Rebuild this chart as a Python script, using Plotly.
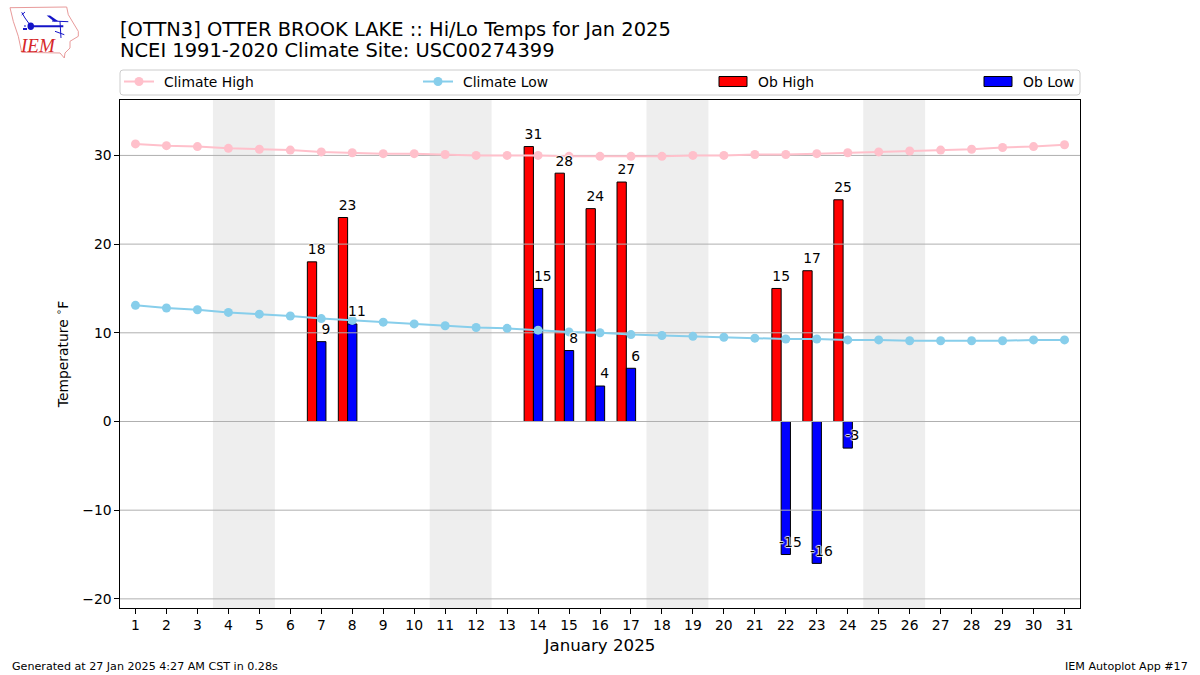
import plotly.graph_objects as go

days = list(range(1, 32))
climate_high = [31.3, 31.1, 31.0, 30.8, 30.7, 30.6, 30.4, 30.3, 30.2, 30.2, 30.1, 30.0, 30.0, 30.0, 29.9, 29.9,
                29.9, 29.9, 30.0, 30.0, 30.1, 30.1, 30.2, 30.3, 30.4, 30.5, 30.6, 30.7, 30.9, 31.0, 31.2]
climate_low = [13.1, 12.8, 12.6, 12.3, 12.1, 11.9, 11.6, 11.4, 11.2, 11.0, 10.8, 10.6, 10.5, 10.3, 10.1, 10.0,
               9.8, 9.7, 9.6, 9.5, 9.4, 9.3, 9.3, 9.2, 9.2, 9.1, 9.1, 9.1, 9.1, 9.2, 9.2]
obs_days = [7, 8, 14, 15, 16, 17, 22, 23, 24]
ob_high = [18, 23, 31, 28, 24, 27, 15, 17, 25]
ob_low = [9, 11, 15, 8, 4, 6, -15, -16, -3]
weekends = [(3.5, 5.5), (10.5, 12.5), (17.5, 19.5), (24.5, 26.5)]
y_ticks = [-20, -10, 0, 10, 20, 30]

FONT = "DejaVu Sans"
SMALL, MID, LARGE, FOOT = 13.89, 16.67, 19.44, 11.11
L, R, T, B = 120, 1080, 100, 608
W, H = 1200, 675
px = lambda x: (x - L) / (R - L)
py = lambda y: (B - y) / (B - T)


def path(points, close=False):
    s = "M" + " L".join(f"{px(x):.5f},{py(y):.5f}" for x, y in points)
    return s + (" Z" if close else "")


BAR_W = 0.3
fig = go.Figure()
fig.add_trace(go.Bar(x=obs_days, y=ob_high, width=BAR_W, offset=-1.5 * BAR_W, name="Ob High", legend="legend3",
                     marker=dict(color="#ff0000", line=dict(color="black", width=1))))
fig.add_trace(go.Bar(x=obs_days, y=ob_low, width=BAR_W, offset=-0.5 * BAR_W, name="Ob Low", legend="legend4",
                     marker=dict(color="#0000ff", line=dict(color="black", width=1))))
for t in y_ticks:
    fig.add_trace(go.Scatter(x=[0.5, 31.5], y=[t, t], mode="lines", line=dict(color="#b0b0b0", width=1),
                             showlegend=False, hoverinfo="skip"))
fig.add_trace(go.Scatter(x=days, y=climate_high, mode="lines+markers", name="Climate High", legend="legend",
                         line=dict(color="#ffc0cb", width=2), marker=dict(color="#ffc0cb", size=9)))
fig.add_trace(go.Scatter(x=days, y=climate_low, mode="lines+markers", name="Climate Low", legend="legend2",
                         line=dict(color="#87ceeb", width=2), marker=dict(color="#87ceeb", size=9)))
halo = "1px 0 1px white,-1px 0 1px white,0 1px 1px white,0 -1px 1px white"
for xs, vals in (([d - BAR_W / 2 for d in obs_days], ob_high), ([d + BAR_W / 2 for d in obs_days], ob_low)):
    fig.add_trace(go.Scatter(x=xs, y=vals, mode="markers+text", text=[str(v) for v in vals],
                             marker=dict(size=5, opacity=0), cliponaxis=False,
                             textposition="top center", showlegend=False, hoverinfo="skip",
                             textfont=dict(family=FONT, size=SMALL, color="black", shadow=halo)))

shapes = [dict(type="rect", xref="x", yref="paper", x0=a, x1=b, y0=0, y1=1, fillcolor="#eeeeee",
               line_width=0, layer="below") for a, b in weekends]

# rounded legend frame
x0, x1, y0, y1, r = px(120), px(1080), py(70), py(95), 3
rx, ry = r / (R - L), r / (B - T)
shapes.append(dict(type="path", xref="paper", yref="paper", line=dict(color="#cccccc", width=1), fillcolor="white",
                   path=(f"M{x0+rx},{y0} L{x1-rx},{y0} Q{x1},{y0} {x1},{y0-ry} L{x1},{y1+ry} Q{x1},{y1} {x1-rx},{y1} "
                         f"L{x0+rx},{y1} Q{x0},{y1} {x0},{y1+ry} L{x0},{y0-ry} Q{x0},{y0} {x0+rx},{y0} Z")))

# logo
logo_outline = [(10, 7.7), (66.7, 7), (68.3, 14.7), (73.3, 23), (78.3, 31.3), (78.3, 36.3), (70, 41.3), (70, 48),
                (65, 53), (64.3, 58), (60, 53), (21.7, 52.3), (18.3, 36.3), (13.3, 21.3)]
shapes.append(dict(type="path", xref="paper", yref="paper", path=path(logo_outline, True),
                   line=dict(color="#e89a9a", width=1)))
logo_blue = [
    ([(30, 26.3), (63.3, 26.3)], 2), ([(21.7, 12.3), (25, 18), (31, 26.3)], 1), ([(21.7, 15), (25, 12)], 1),
    ([(60, 21.3), (61, 38)], 1), ([(55, 31.3), (64.3, 34.7)], 1), ([(52, 21), (68.3, 21.7)], 1),
    ([(23, 29), (27, 29)], 2), ([(25, 25), (25, 27)], 1),
]
for pts, w in logo_blue:
    shapes.append(dict(type="path", xref="paper", yref="paper", path=path(pts), line=dict(color="#1414c8", width=w)))
shapes.append(dict(type="path", xref="paper", yref="paper", path=path([(46.7, 15.5), (50, 15.5), (58, 21), (54, 21.5)], True),
                   fillcolor="#1414c8", line_width=0))
shapes.append(dict(type="circle", xref="paper", yref="paper", x0=px(27.5), x1=px(34), y0=py(30), y1=py(22.5),
                   fillcolor="#1414c8", line_width=0))

annotations = [
    dict(text="<i>IEM</i>", x=px(37.5), y=py(45.5), xref="paper", yref="paper", showarrow=False, xanchor="center",
         yanchor="middle", font=dict(family="Liberation Serif", size=19, color="#d62728")),
    dict(text="NCEI 1991-2020 Climate Site: USC00274399", x=0, y=py(50.5), xref="paper", yref="paper", showarrow=False,
         xanchor="left", yanchor="middle", xshift=-2, font=dict(family=FONT, size=LARGE, color="black")),
    dict(text="Generated at 27 Jan 2025 4:27 AM CST in 0.28s", x=px(12), y=py(666), xref="paper", yref="paper",
         showarrow=False, xanchor="left", yanchor="middle", xshift=-2, font=dict(family=FONT, size=FOOT, color="black")),
    dict(text="IEM Autoplot App #17", x=px(1188), y=py(666), xref="paper", yref="paper", showarrow=False,
         xanchor="right", yanchor="middle", xshift=2, font=dict(family=FONT, size=FOOT, color="black")),
]

legend_style = dict(orientation="v", xref="paper", yref="paper", yanchor="middle", bgcolor="rgba(0,0,0,0)",
                    borderwidth=0, itemwidth=40, itemclick=False, itemdoubleclick=False,
                    font=dict(family=FONT, size=SMALL, color="black"), y=py(82))

fig.update_layout(
    width=W, height=H, autosize=False, barmode="overlay", paper_bgcolor="white", plot_bgcolor="white",
    margin=dict(l=L, r=W - R, t=T, b=H - B, pad=0, autoexpand=False),
    font=dict(family=FONT, color="black"), hovermode=False,
    title=dict(text="[OTTN3] OTTER BROOK LAKE :: Hi/Lo Temps for Jan 2025",
               x=L / W, xanchor="left", xref="container", y=1 - 29 / H, yanchor="middle", yref="container",
               font=dict(family=FONT, size=LARGE, color="black")),
    xaxis=dict(range=[0.5, 31.5], tickmode="array", tickvals=days, ticktext=[str(d) for d in days], ticks="outside",
               ticklen=4.67, tickwidth=1, tickcolor="black", showgrid=False, zeroline=False, showline=True,
               linecolor="black", linewidth=1, mirror=True, tickfont=dict(family=FONT, size=SMALL, color="black"),
               title=dict(text="January 2025", font=dict(family=FONT, size=MID, color="black"), standoff=6)),
    yaxis=dict(range=[-21.03, 36.25], tickmode="array", tickvals=y_ticks, ticks="outside", ticklen=4.67, tickwidth=1,
               tickcolor="black", showgrid=False, zeroline=False, showline=True, linecolor="black", linewidth=1,
               mirror=True, tickfont=dict(family=FONT, size=SMALL, color="black"),
               title=dict(text="Temperature <sup>\u2218</sup>F", font=dict(family=FONT, size=SMALL, color="black"),
                          standoff=10)),
    shapes=shapes, annotations=annotations,
    legend=dict(x=px(114), **legend_style), legend2=dict(x=px(413), **legend_style),
    legend3=dict(x=px(708), **legend_style), legend4=dict(x=px(973), **legend_style),
)

post = """
document.body.style.margin = '0';
function fixLegend() {
  document.querySelectorAll('.legendpoints path.legendundefined, path.legendbar').forEach(function (p) {
    p.setAttribute('d', 'M14,5H-14V-5H14Z');
    p.style.strokeWidth = '1px';
  });
  document.querySelectorAll('.legendlines path.js-line').forEach(function (p) { p.setAttribute('d', 'M10,0h30'); });
}
var gd = document.getElementById('{plot_id}');
if (gd && gd.on) gd.on('plotly_afterplot', fixLegend);
fixLegend();
"""
fig.write_html("out.html", post_script=post, config={"displayModeBar": False})
